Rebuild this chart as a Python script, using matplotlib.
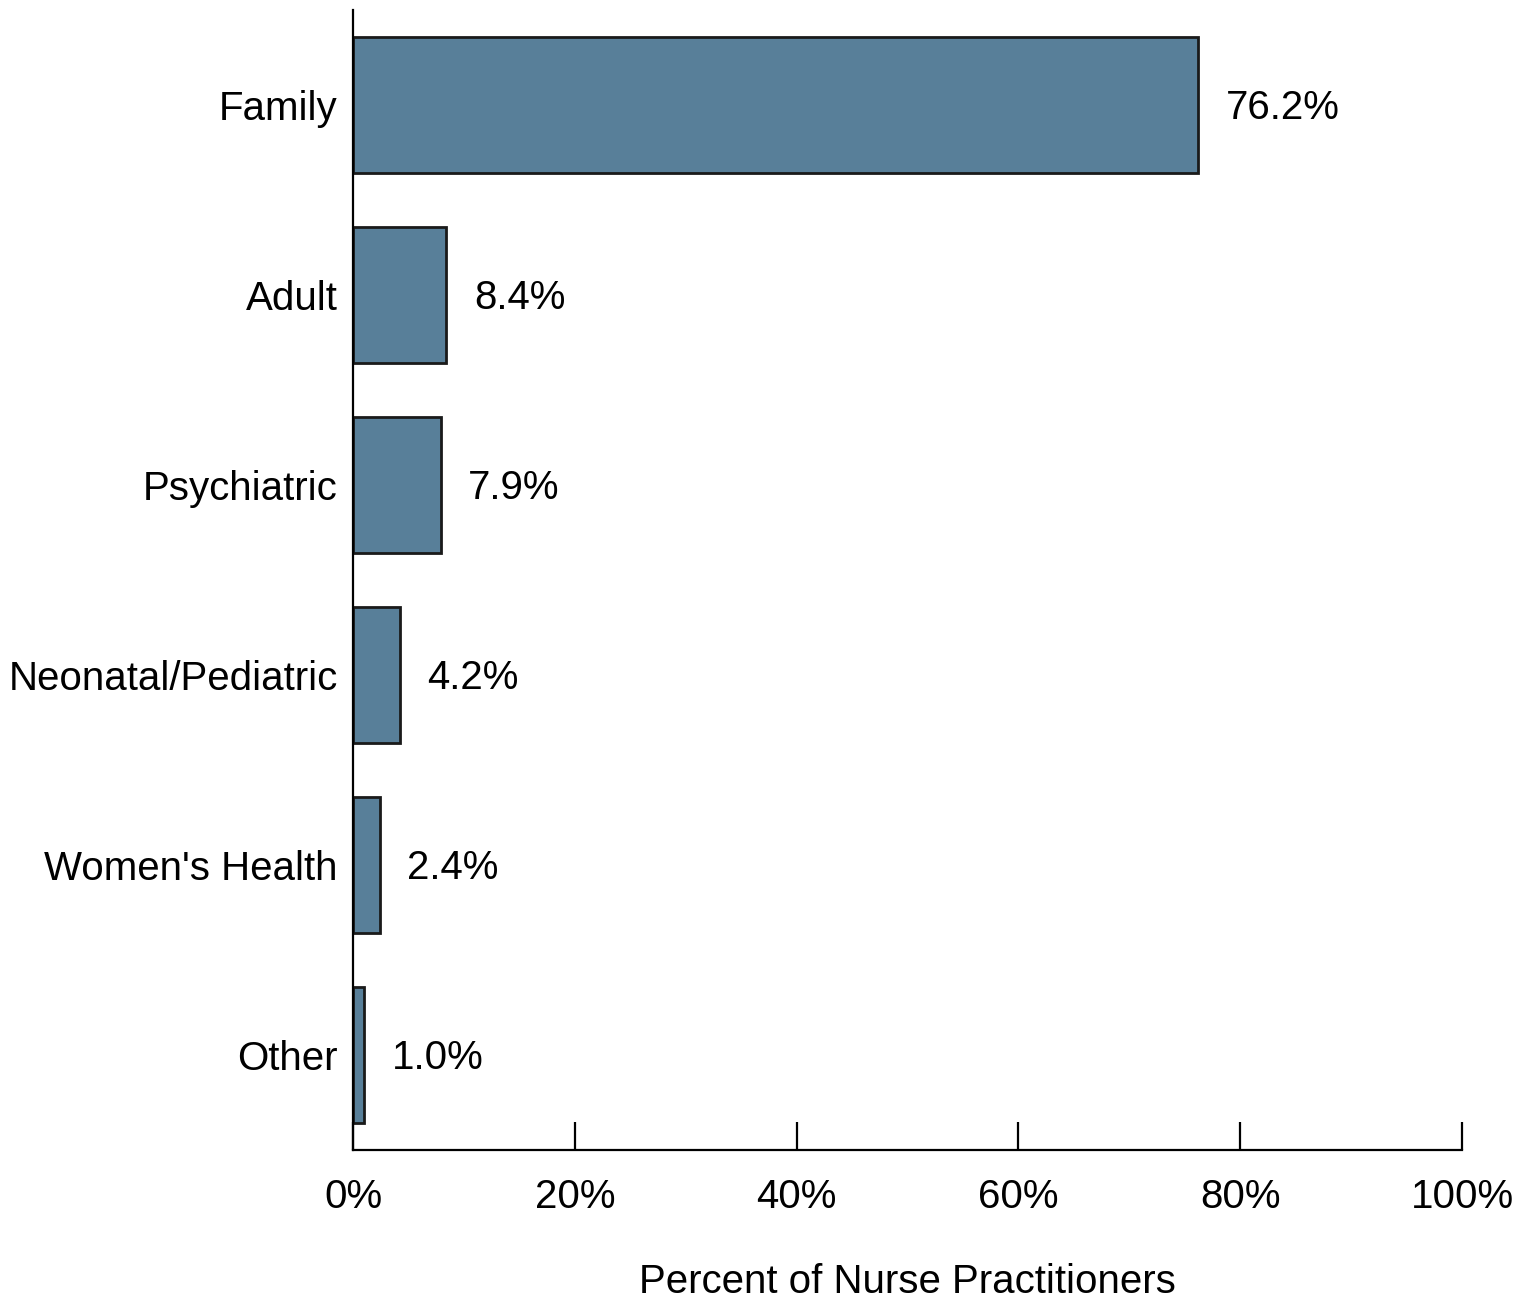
import matplotlib
matplotlib.use("Agg")
import matplotlib.pyplot as plt
from matplotlib.ticker import FuncFormatter

categories = ["Family", "Adult", "Psychiatric", "Neonatal/Pediatric", "Women's Health", "Other"]
percents = [76.2, 8.4, 7.9, 4.2, 2.4, 1.0]
xticks = [0, 20, 40, 60, 80, 100]

plt.rcParams["font.family"] = ["Liberation Sans", "DejaVu Sans"]
FS = 29

fig = plt.figure(figsize=(15.32, 12.99), dpi=100)
ax = fig.add_axes([0.2304, 0.1147, 0.7239, 0.8776])

ypos = list(range(len(categories)))
ax.barh(ypos, percents, height=0.72, color="#587f99", edgecolor="#1a1a1a", linewidth=2)

for y, v in zip(ypos, percents):
    ax.annotate(f"{v:.1f}%", xy=(v, y), xytext=(20, -2), textcoords="offset points",
                ha="left", va="center", fontsize=FS)

ax.set_xlim(0, 100)
ax.set_ylim(5.5, -0.5)
ax.set_yticks(ypos)
ax.set_yticklabels(categories, fontsize=FS, va="center_baseline")
ax.set_xticks(xticks)
ax.xaxis.set_major_formatter(FuncFormatter(lambda v, p: f"{v:.0f}%"))
ax.tick_params(axis="x", direction="in", length=20, width=1.6, labelsize=FS, pad=20)
ax.tick_params(axis="y", length=0, pad=11)

for side in ["top", "right"]:
    ax.spines[side].set_visible(False)
for side in ["left", "bottom"]:
    ax.spines[side].set_linewidth(1.6)

ax.set_xlabel("Percent of Nurse Practitioners", fontsize=FS, labelpad=34)

fig.savefig("out.png", dpi=100)
